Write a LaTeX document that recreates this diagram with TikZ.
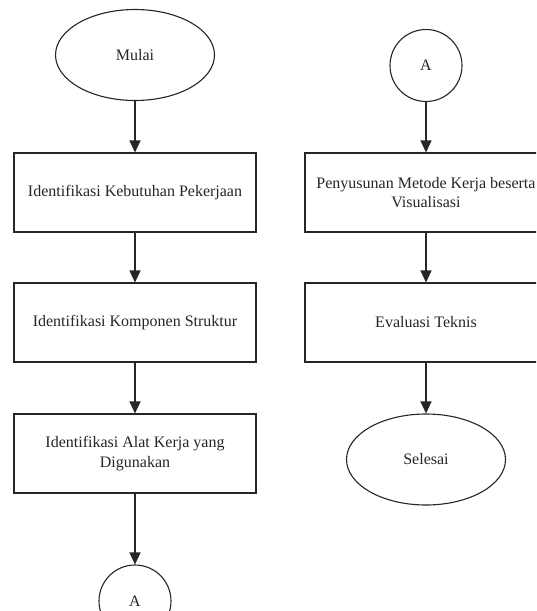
\documentclass[tikz,border=0pt]{standalone}
\usepackage{fontspec}
\setmainfont{Liberation Serif}[Ligatures=NoCommon]
\usetikzlibrary{shapes.geometric,arrows.meta}
\begin{document}
\begin{tikzpicture}[x=1pt,y=-1pt,
  txt/.style={font=\fontsize{16}{19.5}\selectfont, text=black!85},
  box/.style={txt, draw=black!85, line width=1.1pt, rectangle, minimum width=242pt, minimum height=79pt, inner sep=0pt, align=center},
  term/.style={txt, draw=black!85, line width=1.1pt, ellipse, minimum width=159pt, minimum height=91pt, inner sep=0pt},
  conn/.style={txt, draw=black!85, line width=1.1pt, circle, minimum size=72pt, inner sep=0pt},
  arr/.style={-{Triangle[width=11pt,length=12pt]}, line width=1.1pt, draw=black!85}
]
\useasboundingbox (0,0) rectangle (536,611);
\clip (0,0) rectangle (536,611);
\fill[white] (0,0) rectangle (536,611);
% left column
\node[term] (mulai) at (135,55) {Mulai};
\node[box] (b1) at (135,192.5) {Identifikasi Kebutuhan Pekerjaan};
\node[box] (b2) at (135,322.5) {Identifikasi Komponen Struktur};
\node[box] (b3) at (135,453.5) {Identifikasi Alat Kerja yang\\Digunakan};
\node[conn] (a1) at (135,601) {A};
% right column
\node[conn] (a2) at (426,65.5) {A};
\node[box] (r1) at (426,192.5) {Penyusunan Metode Kerja beserta\\Visualisasi};
\node[box] (r2) at (426,322.5) {Evaluasi Teknis};
\node[term] (sel) at (426,459.5) {Selesai};
% connectors
\draw[arr] (mulai) -- (b1);
\draw[arr] (b1) -- (b2);
\draw[arr] (b2) -- (b3);
\draw[arr] (b3) -- (a1);
\draw[arr] (a2) -- (r1);
\draw[arr] (r1) -- (r2);
\draw[arr] (r2) -- (sel);
\end{tikzpicture}
\end{document}
